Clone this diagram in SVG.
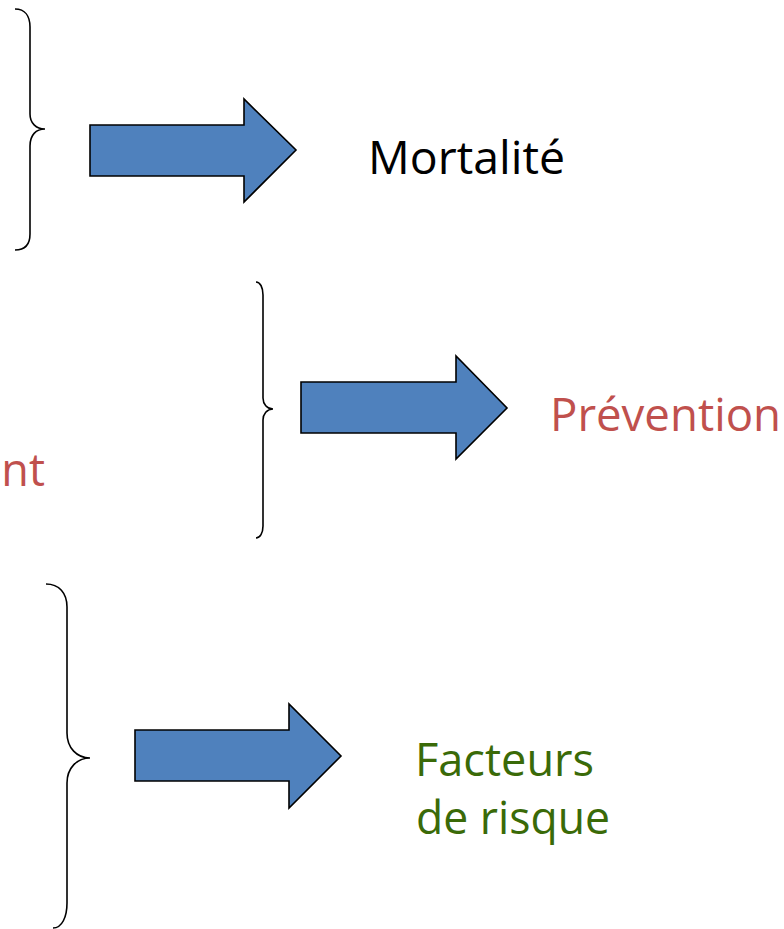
<svg xmlns="http://www.w3.org/2000/svg" width="784" height="929" viewBox="0 0 784 929">
<style>
.brace{fill:none;stroke:#000;stroke-width:1.6}
.arrow{fill:#4F81BD;stroke:#000;stroke-width:1.6;stroke-linejoin:miter}
.t{font-family:"Open Sans","Noto Sans",sans-serif;font-size:45px}
.red{fill:#C0504D}
.green{fill:#3A6A08}
</style>
<rect width="784" height="929" fill="#fff"/>
<g id="connectors">
<path class="brace" d="M15,9 C25,9 30,16 30,27 L30,114 C30,123 36,129 45,129 C36,129 30,135 30,146 L30,234 C30,244 25,250 15,250"/>
<path class="brace" d="M256,282 C260,282 263,287 263,295 L263,398 C263,404 267,409 273,409 C267,409 263,414 263,420 L263,526 C263,533 260,538 256,538"/>
<path class="brace" d="M46,584 C59,584 67,593 67,607 L67,733 C67,748 77,758 90,758 C77,758 67,768 67,783 L67,903 C67,917 62,928 53,928"/>
<path class="arrow" d="M90,125 L244,125 L244,99 L296,150 L244,202 L244,176 L90,176 Z"/>
<path class="arrow" d="M301,382 L456,382 L456,356 L507,408 L456,459 L456,433 L301,433 Z"/>
<path class="arrow" d="M135,730 L289,730 L289,704 L341,756 L289,808 L289,781 L135,781 Z"/>
</g>
<g id="node-mortalite"><text class="t" x="368" y="174" textLength="197" lengthAdjust="spacingAndGlyphs">Mortalité</text></g>
<g id="node-prevention"><text class="t red" x="550" y="431" textLength="231" lengthAdjust="spacingAndGlyphs">Prévention</text></g>
<g id="node-left-partial"><text class="t red" x="45" y="486" text-anchor="end">nt</text></g>
<g id="node-facteurs"><text class="t green" x="415" y="776" textLength="179" lengthAdjust="spacingAndGlyphs">Facteurs</text><text class="t green" x="416" y="834" textLength="194" lengthAdjust="spacingAndGlyphs">de risque</text></g>
</svg>
